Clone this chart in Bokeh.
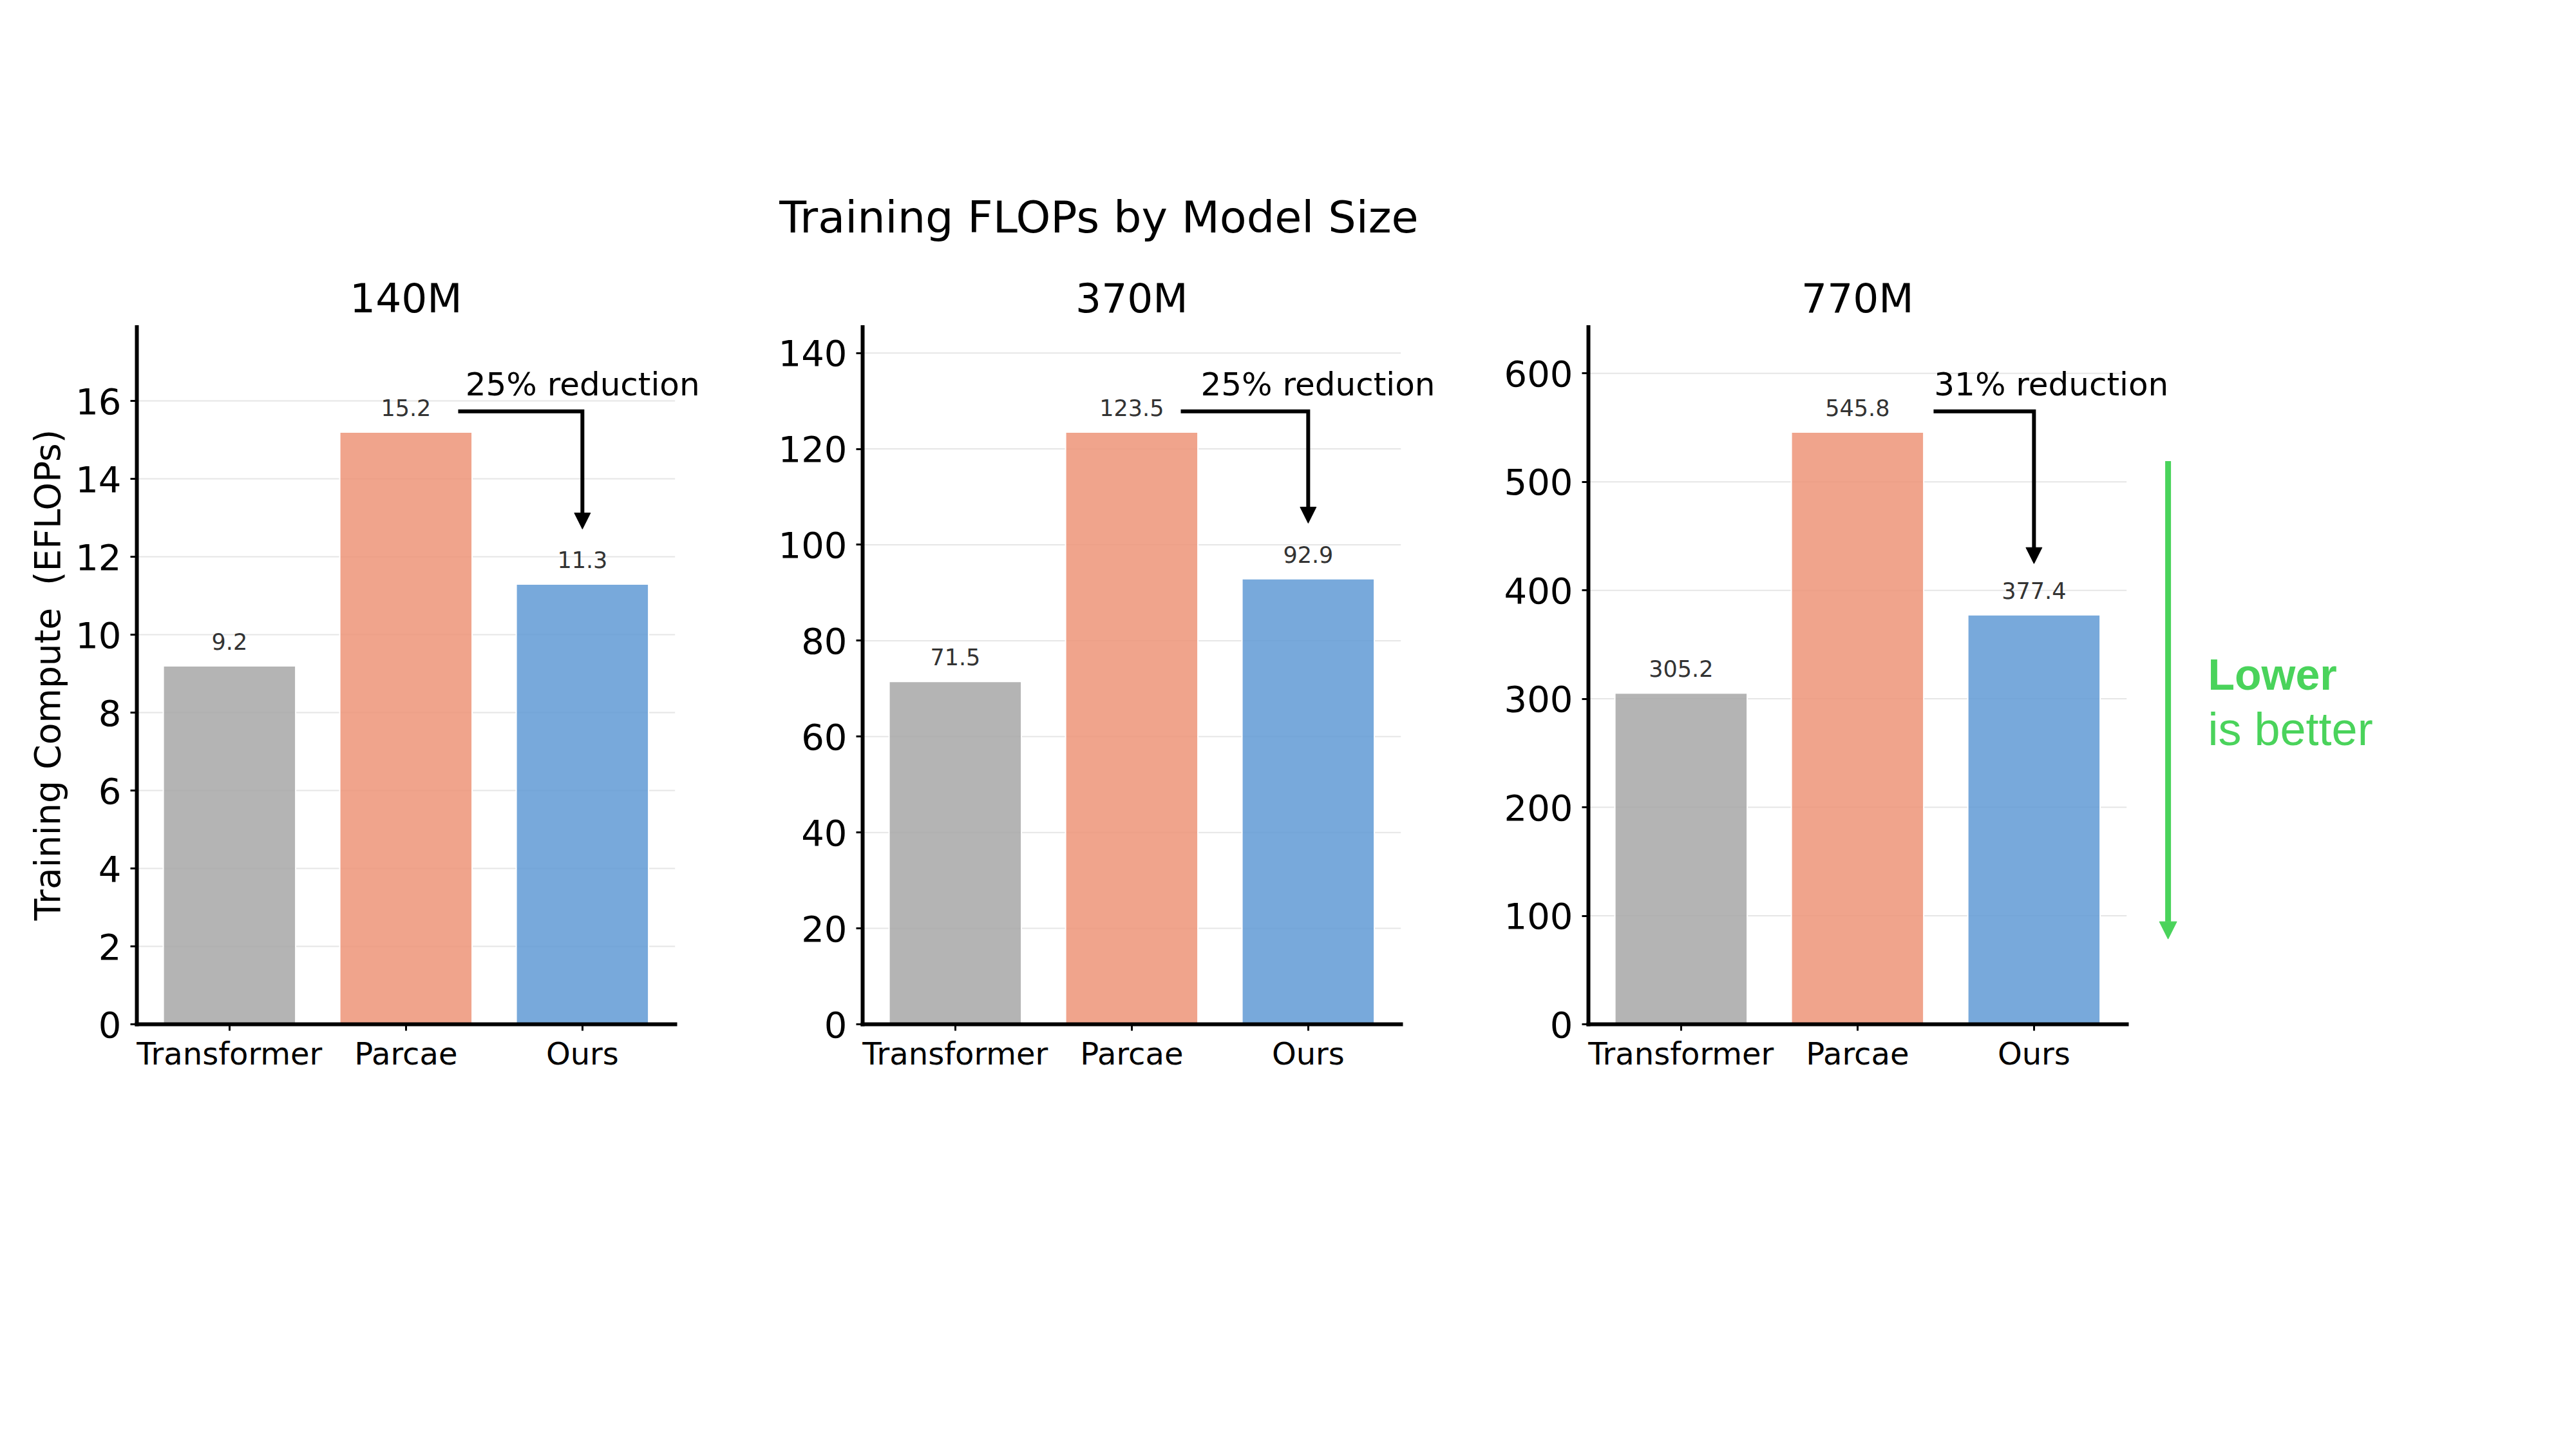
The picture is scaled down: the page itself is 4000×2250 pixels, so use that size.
from bokeh.plotting import figure
from bokeh.models import Range1d, FixedTicker, Arrow, NormalHead
from bokeh.layouts import row, column
from bokeh.core.properties import value
from bokeh.embed import file_html
from bokeh.resources import INLINE

# --- data ---
models = ["Transformer", "Parcae", "Ours"]
sizes = ["140M", "370M", "770M"]
flops_140m = [9.2, 15.2, 11.3]
flops_370m = [71.5, 123.5, 92.9]
flops_770m = [305.2, 545.8, 377.4]
reductions = ["25% reduction", "25% reduction", "31% reduction"]
yticks_140m = [0, 2, 4, 6, 8, 10, 12, 14, 16]
yticks_370m = [0, 20, 40, 60, 80, 100, 120, 140]
yticks_770m = [0, 100, 200, 300, 400, 500, 600]
suptitle = "Training FLOPs by Model Size"

# --- layout / style ---
FONT = "DejaVu Sans"
BAR_COLORS = ["#A7A7A7", "#ED9478", "#609AD5"]
GREEN = "#4AD35B"
BASE_SHIFT = 0.34      # svg text sits this many em below the anchor
TOP_H = 505            # header strip height (ends at the spine tops)
FRAME_H = 1085         # px from x-axis to top of y spine
BOTTOM = 240
PX_X = 274             # px per category step
X0, X1 = -0.525, 2.525
fig_widths = [1188, 1130, 1674]
fig_left = [212, 151, 148]
ann_text_x = [1.337, 1.391, 1.434]
ann_line_x0 = [1.296, 1.278, 1.431]


def lift(fs, ppu):
    return BASE_SHIFT * fs / ppu


def make_panel(i, vals, yticks, show_ylabel):
    ymax = max(vals) * 1.18
    ppu = FRAME_H / ymax
    x_end = X0 + (fig_widths[i] - fig_left[i]) / PX_X
    p = figure(
        width=fig_widths[i],
        height=FRAME_H + BOTTOM,
        x_range=Range1d(X0, x_end),
        y_range=Range1d(0, ymax),
        output_backend="svg",
        toolbar_location=None,
        min_border_left=fig_left[i],
        min_border_right=0,
        min_border_top=0,
        min_border_bottom=BOTTOM,
        outline_line_color=None,
    )
    p.xgrid.visible = False
    p.ygrid.visible = False

    # grid lines only across the axes area
    g = p.segment(x0=X0, x1=X1, y0=yticks, y1=yticks, line_color="#e6e6e6", line_width=2)
    g.level = "underlay"

    xs = list(range(len(models)))
    p.vbar(x=xs, top=vals, width=0.75, fill_color=BAR_COLORS, fill_alpha=0.85,
           line_color="white", line_width=2)

    p.text(x=xs, y=[v + 0.024 * ymax + lift(35, ppu) for v in vals],
           text=[f"{v:.1f}" for v in vals],
           text_align="center", text_baseline="alphabetic", text_font=value(FONT),
           text_font_size="35px", text_color="#333333")

    # reduction bracket
    par, ours = vals[1], vals[2]
    yh = par * 1.035
    tip = ours * 1.125
    p.line(x=[ann_line_x0[i], 2, 2], y=[yh, yh, tip + 12 / ppu], line_color="black",
           line_width=6, line_join="miter")
    p.add_layout(Arrow(end=NormalHead(size=25, fill_color="black", line_color="black"),
                       x_start=2, y_start=tip + 25 / ppu, x_end=2, y_end=tip,
                       line_color=None))
    p.text(x=[ann_text_x[i]], y=[par * 1.062 + lift(50, ppu)], text=[reductions[i]],
           text_align="left", text_baseline="alphabetic", text_font=value(FONT),
           text_font_size="50px", text_color="black")

    # axes
    for ax in (p.xaxis[0], p.yaxis[0]):
        ax.axis_line_width = 6
        ax.axis_line_color = "black"
        ax.axis_line_cap = "square"
        ax.major_tick_line_width = 3
        ax.major_tick_line_color = "black"
        ax.major_tick_out = 10
        ax.major_tick_in = 0
        ax.minor_tick_line_color = None
        ax.major_label_text_font = FONT
        ax.major_label_text_color = "black"
    p.xaxis.bounds = (X0, X1)
    p.xaxis.ticker = FixedTicker(ticks=xs)
    p.xaxis.major_label_overrides = {k: m for k, m in zip(xs, models)}
    p.xaxis.major_label_text_font_size = "48px"
    p.xaxis.major_label_standoff = 7
    p.yaxis.ticker = FixedTicker(ticks=yticks)
    p.yaxis.major_label_text_font_size = "56px"
    p.yaxis.major_label_standoff = 14
    if show_ylabel:
        p.yaxis.axis_label = "Training Compute \u00a0(EFLOPs)"
        p.yaxis.axis_label_text_font = FONT
        p.yaxis.axis_label_text_font_size = "55px"
        p.yaxis.axis_label_text_font_style = "normal"
        p.yaxis.axis_label_text_color = "black"
        p.yaxis.axis_label_standoff = 8
    return p, ymax, ppu


p1, _, _ = make_panel(0, flops_140m, yticks_140m, True)
p2, _, _ = make_panel(1, flops_370m, yticks_370m, False)
p3, ymax3, ppu3 = make_panel(2, flops_770m, yticks_770m, False)

# "lower is better" cue, right of the last panel
p3.add_layout(Arrow(end=NormalHead(size=27, fill_color=GREEN, line_color=GREEN),
                    x_start=2.76, y_start=0.806 * ymax3, x_end=2.76, y_end=0.122 * ymax3,
                    line_color=GREEN, line_width=9))
p3.text(x=[2.986], y=[0.48 * ymax3 + lift(68, ppu3)], text=["Lower"], text_align="left",
        text_baseline="alphabetic", text_font=value("Liberation Sans"),
        text_font_size="68px", text_font_style="bold", text_color=GREEN)
p3.text(x=[2.986], y=[0.40 * ymax3 + lift(72, ppu3)], text=["is better"], text_align="left",
        text_baseline="alphabetic", text_font=value("Liberation Sans"),
        text_font_size="72px", text_color=GREEN)

# header strip: overall title and panel titles (pixel coordinates, y downwards)
total_w = sum(fig_widths)
head = figure(
    width=total_w, height=TOP_H,
    x_range=Range1d(0, total_w), y_range=Range1d(TOP_H, 0),
    output_backend="svg", toolbar_location=None,
    x_axis_location=None, y_axis_location=None,
    min_border_left=0, min_border_right=0, min_border_top=0, min_border_bottom=0,
    outline_line_color=None,
)
head.grid.visible = False
head.text(x=[1706], y=[360 - BASE_SHIFT * 68.5], text=[suptitle], text_align="center",
          text_baseline="alphabetic", text_font=value(FONT), text_font_size="68.5px",
          text_color="black")
starts = [sum(fig_widths[:k]) + fig_left[k] for k in range(3)]
head.text(x=[s + (1 - X0) * PX_X for s in starts], y=[484 - BASE_SHIFT * 63] * 3,
          text=sizes, text_align="center", text_baseline="alphabetic",
          text_font=value(FONT), text_font_size="63px", text_color="black")

layout = column(head, row(p1, p2, p3, spacing=0), spacing=0)
open("out.html", "w").write(file_html(layout, INLINE))
